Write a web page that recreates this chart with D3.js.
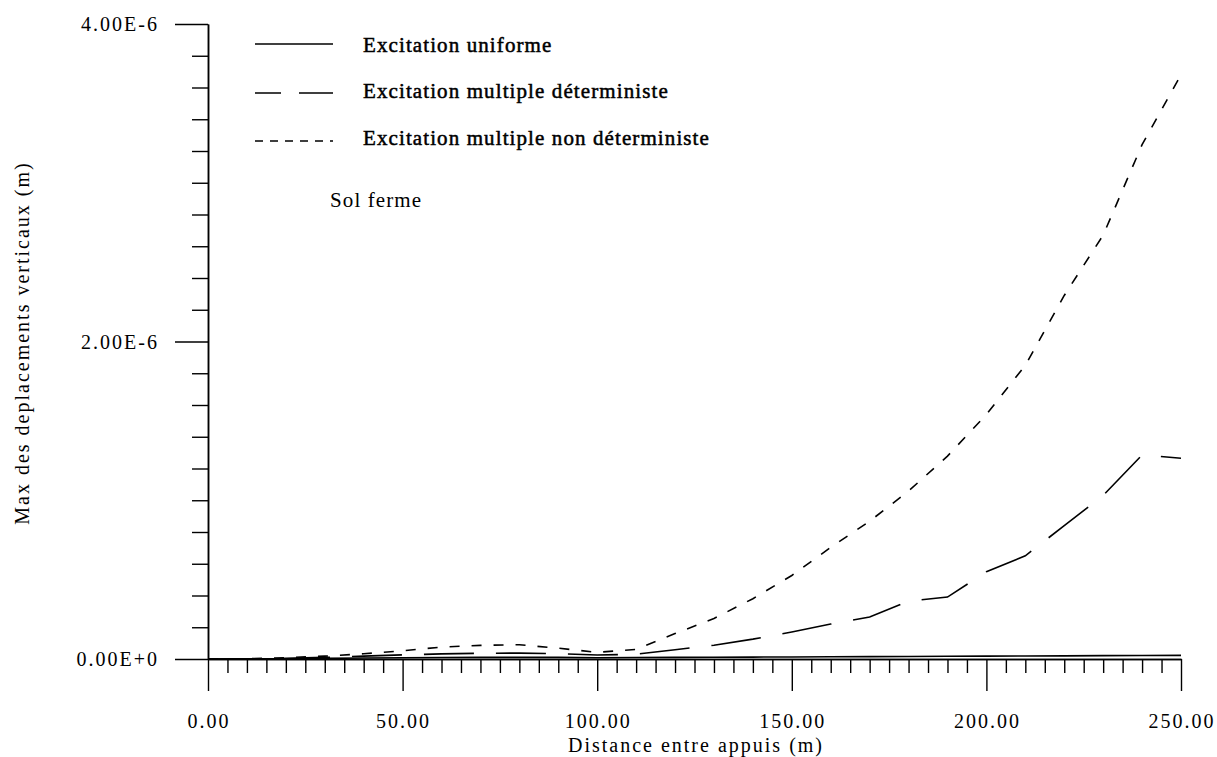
<!DOCTYPE html>
<html>
<head>
<meta charset="utf-8">
<script src="https://cdn.jsdelivr.net/npm/d3@7/dist/d3.min.js"></script>
<style>
  html, body { margin: 0; padding: 0; background: #fff; }
  svg { display: block; }
</style>
</head>
<body>
<svg id="chart" width="1217" height="757"></svg>
<script>
// Span between supports (m)
const distances = [0, 10, 20, 30, 40, 50, 60, 70, 80, 90, 100, 110, 120, 130,
  140, 150, 160, 170, 180, 190, 200, 210, 220, 230, 240, 250];

// Maximum vertical displacement, in units of 1E-6 m
const uniforme = [0, 0.001, 0.002, 0.004, 0.006, 0.008, 0.009, 0.010, 0.010, 0.010,
  0.008, 0.009, 0.010, 0.011, 0.012, 0.013, 0.014, 0.015, 0.016, 0.017,
  0.018, 0.019, 0.020, 0.021, 0.022, 0.023];
const multipleDeterministe = [0, 0.001, 0.004, 0.010, 0.018, 0.026, 0.032, 0.036, 0.037, 0.034,
  0.025, 0.030, 0.058, 0.087, 0.125, 0.170, 0.220, 0.265, 0.365, 0.390,
  0.550, 0.650, 0.840, 1.030, 1.285, 1.265];
const multipleNonDeterministe = [0, 0.002, 0.008, 0.018, 0.033, 0.052, 0.075, 0.086, 0.090, 0.068,
  0.042, 0.060, 0.160, 0.255, 0.380, 0.526, 0.703, 0.868, 1.058, 1.278,
  1.540, 1.850, 2.290, 2.670, 3.240, 3.680];

const seriesNames = ["Excitation uniforme", "Excitation multiple déterministe",
  "Excitation multiple non déterministe"];

const xMajorTicks = [0, 50, 100, 150, 200, 250];
const xTickLabels = ["0.00", "50.00", "100.00", "150.00", "200.00", "250.00"];
const yMajorTicks = [0, 2, 4];
const yTickLabels = ["0.00E+0", "2.00E-6", "4.00E-6"];

const FONT = "'Liberation Serif', Tinos, 'Times New Roman', Times, 'DejaVu Serif', serif";

const svg = d3.select("#chart");

const x = d3.scaleLinear().domain([0, 250]).range([208, 1181]);
const y = d3.scaleLinear().domain([0, 4]).range([659, 24]);

const axisStroke = 1.5;

// Minor ticks every 5 m along x, every 0.2E-6 along y
const xMinor = d3.range(0, 251, 5).filter(v => !xMajorTicks.includes(v));
const yMinor = d3.range(0, 4.0001, 0.2).map(v => +v.toFixed(1)).filter(v => !yMajorTicks.includes(v));

const gx = svg.append("g").attr("transform", `translate(0,${y(0)})`);
gx.call(d3.axisBottom(x).tickValues(xMinor).tickSize(14).tickSizeOuter(0).tickFormat(""));
gx.call(g => g.append("g").call(d3.axisBottom(x).tickValues(xMajorTicks).tickSize(32).tickSizeOuter(0).tickFormat("")));
gx.selectAll("path.domain").attr("stroke", "#000").attr("stroke-width", axisStroke);
gx.selectAll(".tick line").attr("stroke", "#000").attr("stroke-width", 1.4);

const gy = svg.append("g").attr("transform", `translate(${x(0)},0)`);
gy.call(d3.axisLeft(y).tickValues(yMinor).tickSize(16).tickSizeOuter(0).tickFormat(""));
gy.call(g => g.append("g").call(d3.axisLeft(y).tickValues(yMajorTicks).tickSize(33).tickSizeOuter(0).tickFormat("")));
gy.selectAll("path.domain").attr("stroke", "#000").attr("stroke-width", axisStroke);
gy.selectAll(".tick line").attr("stroke", "#000").attr("stroke-width", 1.4);

// Tick labels
const labelStyle = sel => sel
  .attr("font-family", FONT)
  .attr("font-size", 20)
  .attr("letter-spacing", 2)
  .attr("fill", "#000");

svg.append("g").selectAll("text")
  .data(xMajorTicks)
  .join("text")
  .attr("x", d => x(d) + 1)
  .attr("y", 728)
  .attr("text-anchor", "middle")
  .text((d, i) => xTickLabels[i])
  .call(labelStyle);

svg.append("g").selectAll("text")
  .data(yMajorTicks)
  .join("text")
  .attr("x", 159)
  .attr("y", d => y(d) + 7)
  .attr("text-anchor", "end")
  .text((d, i) => yTickLabels[i])
  .call(labelStyle);

// Axis titles
svg.append("text")
  .attr("x", 696)
  .attr("y", 752)
  .attr("text-anchor", "middle")
  .text("Distance entre appuis (m)")
  .call(labelStyle);

svg.append("text")
  .attr("transform", "translate(29,343) rotate(-90)")
  .attr("text-anchor", "middle")
  .text("Max des deplacements verticaux (m)")
  .call(labelStyle);

// Curves
const line = d3.line()
  .x((d, i) => x(distances[i]))
  .y(d => y(d));

const curves = [
  { values: uniforme, dash: null },
  { values: multipleDeterministe, dash: "50,22" },
  { values: multipleNonDeterministe, dash: "10,12" }
];

svg.append("g").selectAll("path")
  .data(curves)
  .join("path")
  .attr("d", d => line(d.values))
  .attr("fill", "none")
  .attr("stroke", "#000")
  .attr("stroke-width", 1.6)
  .attr("stroke-dasharray", d => d.dash);

// Legend
const legendDash = [null, "26,18,34", "8,7"];
const legendRowsLine = [44, 93, 141];
const legendRowsText = [52, 98, 145];
const legendStyle = sel => sel
  .attr("font-family", FONT)
  .attr("font-size", 21)
  .attr("letter-spacing", 1.1)
  .attr("fill", "#000");

const legend = svg.append("g");
legend.selectAll("line")
  .data(seriesNames)
  .join("line")
  .attr("x1", 255)
  .attr("x2", 333)
  .attr("y1", (d, i) => legendRowsLine[i])
  .attr("y2", (d, i) => legendRowsLine[i])
  .attr("stroke", "#000")
  .attr("stroke-width", 1.6)
  .attr("stroke-dasharray", (d, i) => legendDash[i]);
legend.selectAll("text")
  .data(seriesNames)
  .join("text")
  .attr("x", 363)
  .attr("y", (d, i) => legendRowsText[i])
  .text(d => d)
  .call(legendStyle)
  .attr("stroke", "#000")
  .attr("stroke-width", 0.5);

svg.append("text")
  .attr("x", 330)
  .attr("y", 207)
  .text("Sol ferme")
  .call(legendStyle);
</script>
</body>
</html>
